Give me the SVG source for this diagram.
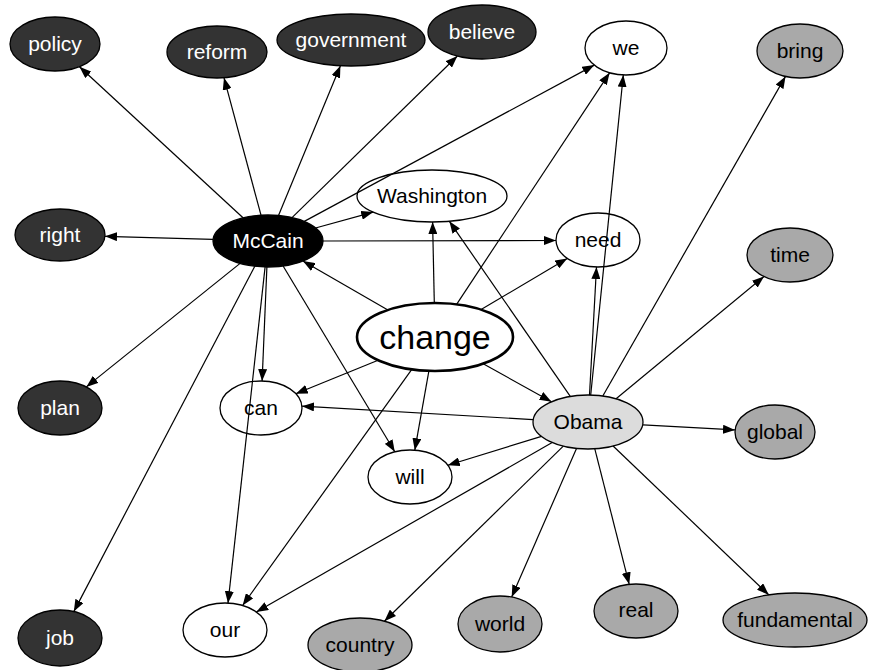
<svg xmlns="http://www.w3.org/2000/svg" width="876" height="670" viewBox="0 0 876 670">
<defs>
<marker id="ah" markerWidth="12" markerHeight="9" refX="12" refY="4.5" orient="auto" markerUnits="userSpaceOnUse">
<path d="M0,0 L12,4.5 L0,9 z" fill="#000"/>
</marker>
<style>
.e line{stroke:#000;stroke-width:1.2;fill:none;marker-end:url(#ah)}
ellipse{stroke:#000;stroke-width:1.3}
.dk ellipse{fill:#333}
.bk ellipse{fill:#000}
.gy ellipse{fill:#a9a9a9}
.lg ellipse{fill:#dcdcdc}
.wh ellipse{fill:#fff}
text{font-family:"Liberation Sans",Arial,Helvetica,sans-serif;font-size:21px;text-anchor:middle}
.dk text,.bk text{fill:#fff}
</style>
</defs>
<rect width="876" height="670" fill="#fff"/>
<g id="policy" class="dk"><ellipse cx="55" cy="44" rx="45" ry="27"/><text x="55" y="51">policy</text></g>
<g id="reform" class="dk"><ellipse cx="217" cy="52" rx="50" ry="26"/><text x="217" y="59">reform</text></g>
<g id="government" class="dk"><ellipse cx="351" cy="40" rx="74" ry="26"/><text x="351" y="47">government</text></g>
<g id="believe" class="dk"><ellipse cx="482" cy="32" rx="54" ry="27"/><text x="482" y="39">believe</text></g>
<g id="we" class="wh"><ellipse cx="626" cy="48" rx="41" ry="27"/><text x="626" y="55">we</text></g>
<g id="bring" class="gy"><ellipse cx="800" cy="51" rx="43" ry="27"/><text x="800" y="58">bring</text></g>
<g id="right" class="dk"><ellipse cx="60" cy="235" rx="45" ry="26"/><text x="60" y="242">right</text></g>
<g id="McCain" class="bk"><ellipse cx="268" cy="241" rx="55" ry="26"/><text x="268" y="248">McCain</text></g>
<g id="Washington" class="wh"><ellipse cx="432" cy="196" rx="75" ry="26"/><text x="432" y="203">Washington</text></g>
<g id="need" class="wh"><ellipse cx="598" cy="240" rx="42" ry="27"/><text x="598" y="247">need</text></g>
<g id="time" class="gy"><ellipse cx="790" cy="255" rx="43" ry="27"/><text x="790" y="262">time</text></g>
<g id="change" class="wh"><ellipse cx="435" cy="337" rx="78" ry="34" style="stroke-width:2.6"/><text x="435" y="349" style="font-size:34px">change</text></g>
<g id="plan" class="dk"><ellipse cx="60" cy="408" rx="42" ry="27"/><text x="60" y="415">plan</text></g>
<g id="can" class="wh"><ellipse cx="261" cy="408" rx="41" ry="27"/><text x="261" y="415">can</text></g>
<g id="Obama" class="lg"><ellipse cx="588" cy="422" rx="55" ry="27"/><text x="588" y="429">Obama</text></g>
<g id="global" class="gy"><ellipse cx="775" cy="432" rx="40" ry="27"/><text x="775" y="439">global</text></g>
<g id="will" class="wh"><ellipse cx="410" cy="477" rx="42" ry="27"/><text x="410" y="484">will</text></g>
<g id="job" class="dk"><ellipse cx="60" cy="638" rx="42" ry="28"/><text x="60" y="645">job</text></g>
<g id="our" class="wh"><ellipse cx="225" cy="630" rx="42" ry="27"/><text x="225" y="637">our</text></g>
<g id="country" class="gy"><ellipse cx="360" cy="645" rx="52" ry="27"/><text x="360" y="652">country</text></g>
<g id="world" class="gy"><ellipse cx="500" cy="624" rx="42" ry="28"/><text x="500" y="631">world</text></g>
<g id="real" class="gy"><ellipse cx="636" cy="611" rx="42" ry="27"/><text x="636" y="617">real</text></g>
<g id="fundamental" class="gy"><ellipse cx="795" cy="620" rx="72" ry="27"/><text x="795" y="627">fundamental</text></g>
<g class="e" id="edges">
<line x1="243" y1="217.8" x2="79.5" y2="66.7"/>
<line x1="261" y1="215.2" x2="224" y2="77.8"/>
<line x1="278.5" y1="215.5" x2="340.4" y2="65.7"/>
<line x1="292" y1="217.6" x2="457.4" y2="56"/>
<line x1="304.3" y1="221.4" x2="594.3" y2="65.1"/>
<line x1="315.5" y1="228" x2="373.2" y2="212.1"/>
<line x1="323" y1="241" x2="556" y2="240.5"/>
<line x1="213" y1="239.4" x2="105" y2="236.3"/>
<line x1="240.1" y1="263.4" x2="86.3" y2="386.9"/>
<line x1="254.8" y1="266.2" x2="73.8" y2="611.6"/>
<line x1="266.9" y1="267" x2="262.1" y2="381"/>
<line x1="265.1" y1="266.9" x2="228" y2="603.1"/>
<line x1="283.1" y1="266" x2="394.8" y2="451.8"/>
<line x1="387.9" y1="309.9" x2="302.9" y2="261.1"/>
<line x1="434.3" y1="303" x2="432.6" y2="222"/>
<line x1="456.6" y1="304.3" x2="609.6" y2="72.8"/>
<line x1="481.1" y1="309.6" x2="567.2" y2="258.4"/>
<line x1="378.1" y1="360.2" x2="295.8" y2="393.8"/>
<line x1="428.9" y1="370.9" x2="414.8" y2="450.2"/>
<line x1="483.2" y1="363.8" x2="551.5" y2="401.7"/>
<line x1="411.8" y1="369.4" x2="242.6" y2="605.5"/>
<line x1="533" y1="419.6" x2="302" y2="406.2"/>
<line x1="570.3" y1="396.4" x2="449.4" y2="221.3"/>
<line x1="589.5" y1="395" x2="596.5" y2="267"/>
<line x1="590.7" y1="395" x2="623.3" y2="75"/>
<line x1="602.8" y1="396" x2="785.5" y2="76.4"/>
<line x1="616.1" y1="398.8" x2="764" y2="276.5"/>
<line x1="643" y1="424.9" x2="735" y2="429.9"/>
<line x1="613.1" y1="446" x2="768.7" y2="594.8"/>
<line x1="594.8" y1="448.8" x2="629.2" y2="584.3"/>
<line x1="576.5" y1="448.4" x2="511.7" y2="597.1"/>
<line x1="563.3" y1="446.1" x2="384.4" y2="621.2"/>
<line x1="552.2" y1="442.5" x2="256.3" y2="612.1"/>
<line x1="541.5" y1="436.4" x2="447.8" y2="465.3"/>
</g>
</svg>
